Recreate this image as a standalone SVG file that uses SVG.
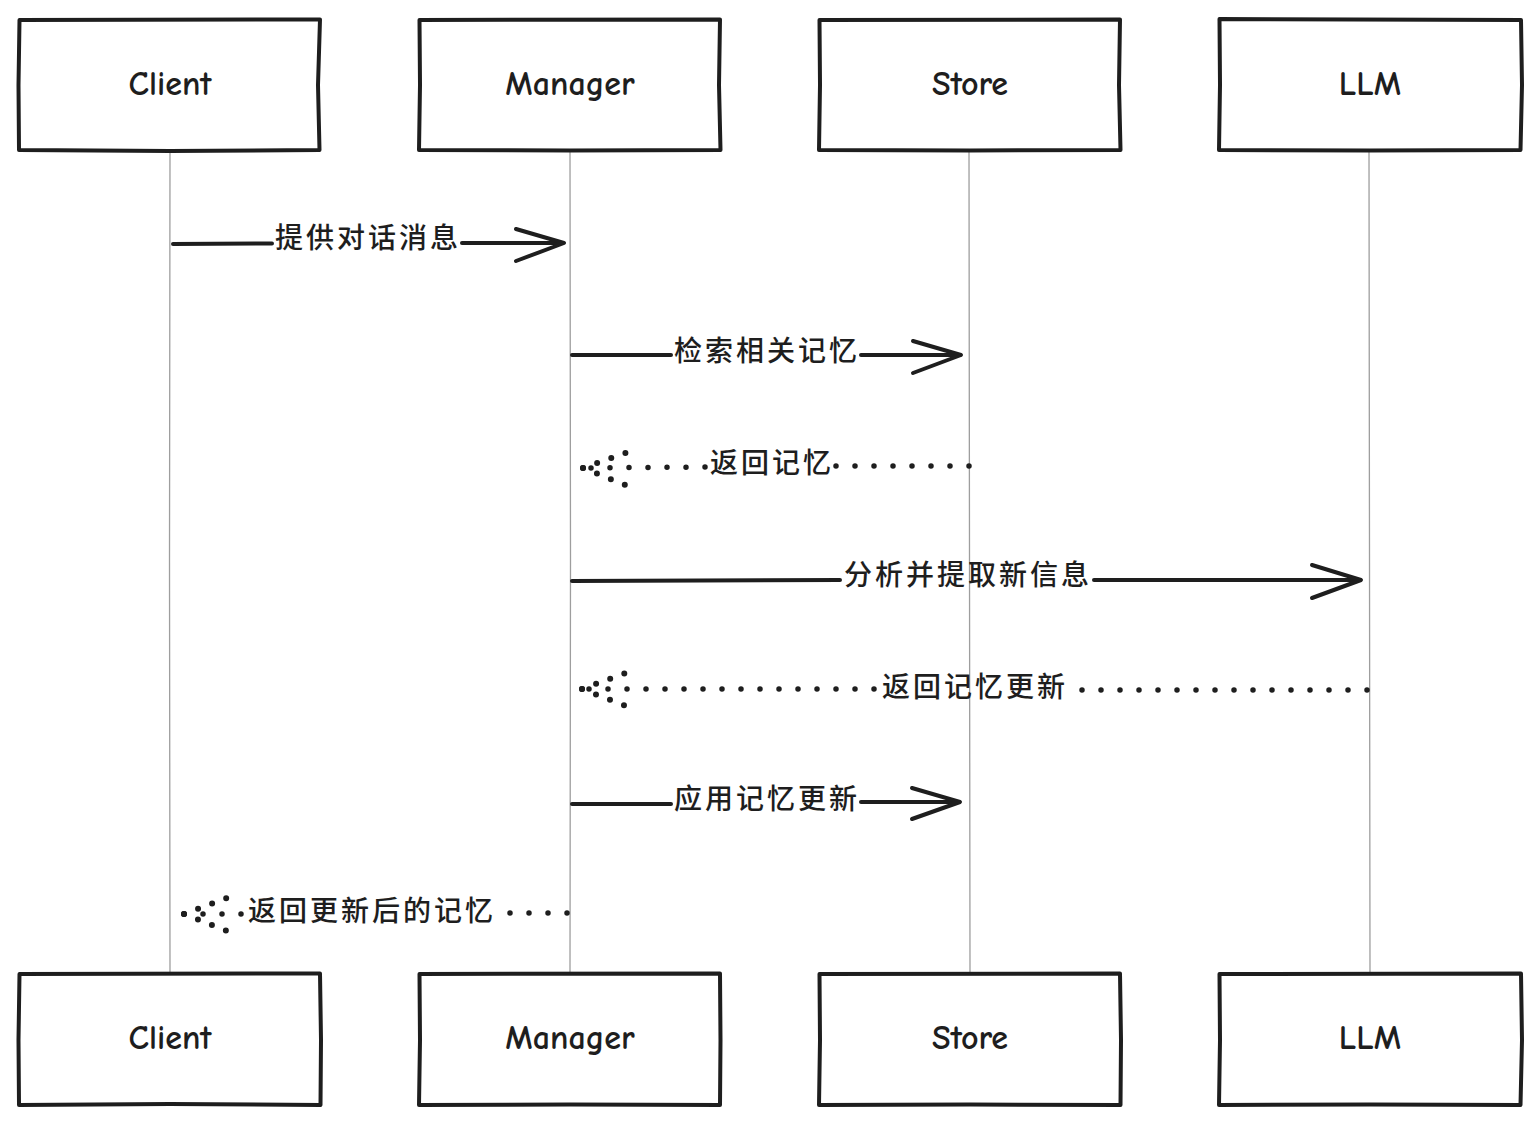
<svg xmlns="http://www.w3.org/2000/svg" width="1539" height="1124" viewBox="0 0 1539 1124">
  <style>
    .box { fill: #ffffff; stroke: #1e1e1e; stroke-width: 4; stroke-linejoin: round; stroke-linecap: round; }
    .name { font-family: "Comic Neue", "Noto Sans", "DejaVu Sans", sans-serif; font-size: 34px; font-weight: 700; fill: #1e1e1e; text-anchor: middle; }
    .life { stroke: #9e9e9e; stroke-width: 1.3; fill: none; }
    .msg { stroke: #1e1e1e; stroke-width: 4; fill: none; stroke-linecap: round; stroke-linejoin: round; }
    .dot { stroke: #1e1e1e; stroke-width: 5.5; fill: none; stroke-linecap: round; stroke-dasharray: 0 19; }
    .dothead { stroke: #1e1e1e; stroke-width: 6; fill: none; stroke-linecap: round; stroke-dasharray: 0 15; }
    .lbl { font-family: "Noto Sans CJK SC", "Noto Sans", sans-serif; font-size: 28px; font-weight: 500; fill: #1e1e1e; text-anchor: middle; letter-spacing: 3px; }
  </style>

  <rect width="1539" height="1124" fill="#ffffff"/>

  <!-- lifelines -->
  <g id="lifelines">
    <path class="life" d="M170 150 L169.5 560 L170 973"/>
    <path class="life" d="M570 150 L570.5 560 L570 973"/>
    <path class="life" d="M969 150 L969.5 560 L970 973"/>
    <path class="life" d="M1369 150 L1369.5 560 L1370 973"/>
  </g>

  <!-- participants, top row -->
  <g id="client-top">
    <path class="box" d="M19.5 20 L320 19.5 L318 85 L319.5 150 L170 151 L19 150 L18.5 85 Z"/>
    <text class="name" x="170" y="95">Client</text>
  </g>
  <g id="manager-top">
    <path class="box" d="M419.5 20 L720 19.5 L719 85 L720.5 150 L570 150.5 L419 150 L420 85 Z"/>
    <text class="name" x="570" y="95">Manager</text>
  </g>
  <g id="store-top">
    <path class="box" d="M819.5 20 L1120 19.5 L1119 85 L1120.5 150 L970 150.5 L819 150 L820 85 Z"/>
    <text class="name" x="970" y="95">Store</text>
  </g>
  <g id="llm-top">
    <path class="box" d="M1219.5 19 L1521 20 L1522 85 L1520.5 150 L1370 150.5 L1219 150 L1220 85 Z"/>
    <text class="name" x="1370" y="95">LLM</text>
  </g>

  <!-- participants, bottom row -->
  <g id="client-bottom">
    <path class="box" d="M19.5 974 L320 973.5 L321 1040 L320.5 1105 L170 1104 L19 1105 L18.5 1040 Z"/>
    <text class="name" x="170" y="1049">Client</text>
  </g>
  <g id="manager-bottom">
    <path class="box" d="M419.5 974 L720 973.5 L720.5 1040 L720 1105 L570 1104.5 L419 1105 L420 1040 Z"/>
    <text class="name" x="570" y="1049">Manager</text>
  </g>
  <g id="store-bottom">
    <path class="box" d="M819.5 974 L1120 973.5 L1121 1040 L1120.5 1105 L970 1104.5 L819 1105 L820 1040 Z"/>
    <text class="name" x="970" y="1049">Store</text>
  </g>
  <g id="llm-bottom">
    <path class="box" d="M1219.5 974 L1521 973.5 L1522 1040 L1520.5 1105 L1370 1104.5 L1219 1105 L1220 1040 Z"/>
    <text class="name" x="1370" y="1049">LLM</text>
  </g>

  <!-- messages -->
  <g id="connectors">
    <!-- 1 Client -> Manager -->
    <path class="msg" d="M173 244 L272 243.5"/>
    <path class="msg" d="M462 243 L562 243"/>
    <path class="msg" d="M516 229 L564 243 L516 261"/>
    <text class="lbl" x="368" y="248">提供对话消息</text>

    <!-- 2 Manager -> Store -->
    <path class="msg" d="M572 355 L671 355"/>
    <path class="msg" d="M861 355 L960 355"/>
    <path class="msg" d="M913 341 L961 355 L913 373"/>
    <text class="lbl" x="767" y="361">检索相关记忆</text>

    <!-- 3 Store -> Manager (reply) -->
    <path class="dot" d="M969 466 L834 466"/>
    <path class="dot" d="M705 467 L582 468"/>
    <path class="dothead" d="M583 468 L628 452"/>
    <path class="dothead" d="M583 468 L628 486"/>
    <text class="lbl" x="772" y="473">返回记忆</text>

    <!-- 4 Manager -> LLM -->
    <path class="msg" d="M572 581 L840 580"/>
    <path class="msg" d="M1094 580 L1360 580"/>
    <path class="msg" d="M1312 565 L1361 580 L1312 598"/>
    <text class="lbl" x="968" y="585">分析并提取新信息</text>

    <!-- 5 LLM -> Manager (reply) -->
    <path class="dot" d="M1367 690 L1072 690"/>
    <path class="dot" d="M874 689 L581 689"/>
    <path class="dothead" d="M582 689 L626 673"/>
    <path class="dothead" d="M582 689 L626 706"/>
    <text class="lbl" x="975" y="697">返回记忆更新</text>

    <!-- 6 Manager -> Store -->
    <path class="msg" d="M572 804 L671 804"/>
    <path class="msg" d="M861 802 L959 802"/>
    <path class="msg" d="M912 788 L960 802 L912 819"/>
    <text class="lbl" x="767" y="809">应用记忆更新</text>

    <!-- 7 Manager -> Client (reply) -->
    <path class="dot" d="M567 913 L508 913"/>
    <path class="dot" d="M241 914 L183 914"/>
    <path class="dothead" d="M184 914 L227 898"/>
    <path class="dothead" d="M184 914 L227 931"/>
    <text class="lbl" x="372" y="921">返回更新后的记忆</text>
  </g>
</svg>
